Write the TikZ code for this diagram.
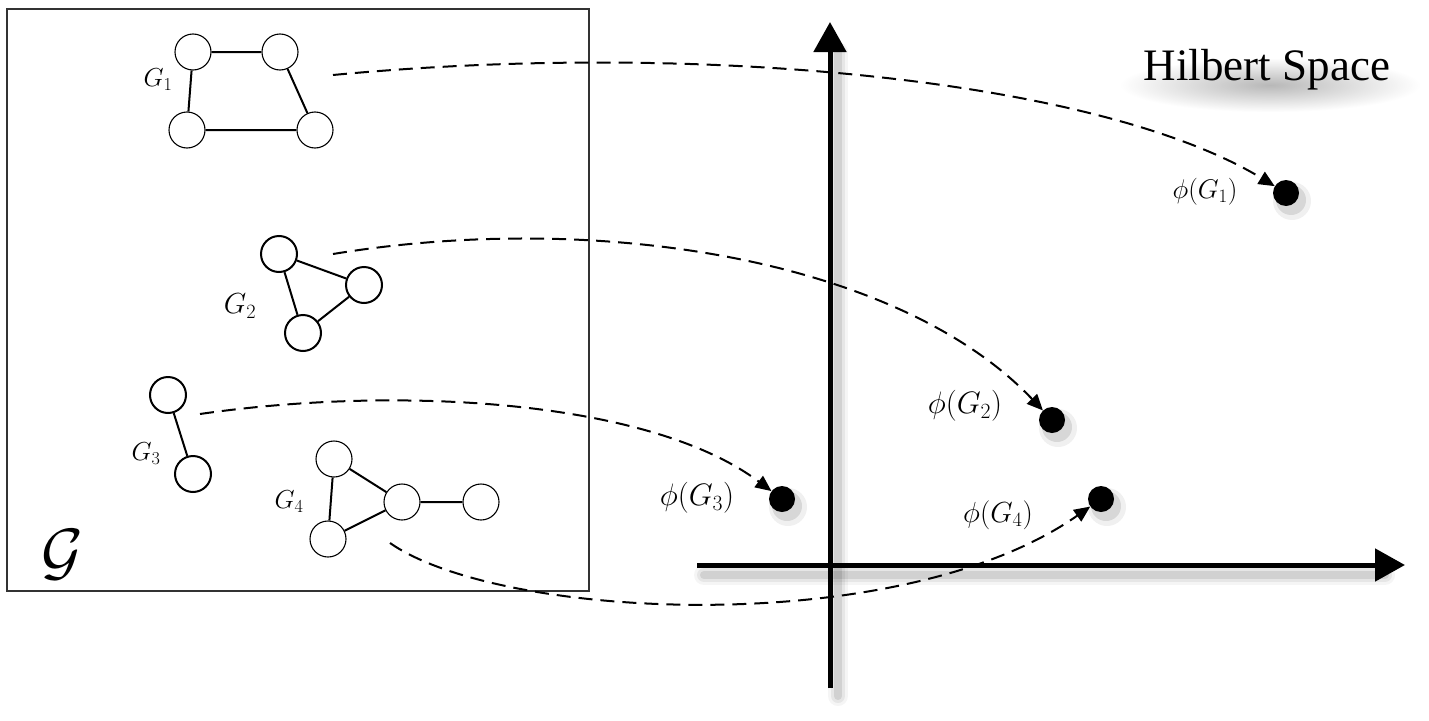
\RequirePackage{fix-cm}
\documentclass[tikz,border=0pt]{standalone}
\usepackage{fontspec}
\newfontfamily\hfont{Liberation Serif}
\usetikzlibrary{arrows.meta,fadings}
\tikzfading[name=softblob, inner color=transparent!20, outer color=transparent!100]
\begin{document}
\begin{tikzpicture}[x=1pt,y=-1pt,
  vtx/.style={circle,draw,minimum size=36pt,inner sep=0pt,line width=1.1pt,fill=white},
  vtxb/.style={vtx,line width=2pt},
  edge/.style={line width=2pt},
  map/.style={dash pattern=on 14pt off 8pt, line width=2pt, -{Triangle[length=16pt,width=14pt]}},
  dot/.style={circle,fill=black,minimum size=26pt,inner sep=0pt},
  lbl/.style={font=\fontsize{26}{28}\selectfont},
  plbl/.style={font=\fontsize{31}{34}\selectfont},
  axis/.style={line width=5pt,-{Triangle[length=30pt,width=32pt]}},
]
\useasboundingbox (0,0) rectangle (1429,720);
\fill[white] (0,0) rectangle (1429,720);

% frame of graph set
\draw[line width=1.2pt,black!80] (7,9) rectangle (589,591);
\node[font=\fontsize{64}{68}\selectfont] (calG) at (62,555) {$\mathcal{G}$};

% axes
\coordinate (xo) at (697,565); \coordinate (xe) at (1405,565);
\coordinate (yo) at (830,688); \coordinate (ye) at (830,22);
\foreach \w/\o in {20/0.04,14/0.06,8/0.09}{
  \draw[line width=\w pt,black,opacity=\o,line cap=round] ([shift={(7,10)}]xo) -- ([shift={(-20,10)}]xe);
  \draw[line width=\w pt,black,opacity=\o,line cap=round] ([shift={(8,8)}]yo) -- ([shift={(8,30)}]ye);
}
\draw[axis] (xo) -- (xe);
\draw[axis] (yo) -- (ye);

% Hilbert space label with soft shadow
\fill[black,opacity=0.35,path fading=softblob] (1120,58) rectangle (1420,112);
\node[font=\hfont\fontsize{45}{50}\selectfont] (hs) at (1267,70) {Hilbert Space};

% G1
\node[vtx] (a1) at (193,52) {};
\node[vtx] (b1) at (280,52) {};
\node[vtx] (c1) at (187,130) {};
\node[vtx] (d1) at (315,130) {};
\draw[edge] (a1) -- (b1) (b1) -- (d1) (a1) -- (c1) (c1) -- (d1);
\node[lbl] (l1) at (158,80) {$G_1$};

% G2
\node[vtxb] (a2) at (279,254) {};
\node[vtxb] (b2) at (364,285) {};
\node[vtxb] (c2) at (303,333) {};
\draw[edge] (a2) -- (b2) (b2) -- (c2) (a2) -- (c2);
\node[font=\fontsize{29}{32}\selectfont] (l2) at (240,306) {$G_2$};

% G3
\node[vtxb] (a3) at (168,395) {};
\node[vtxb] (b3) at (193,474) {};
\draw[edge] (a3) -- (b3);
\node[lbl] (l3) at (146,454) {$G_3$};

% G4
\node[vtx] (a4) at (334,459) {};
\node[vtx] (b4) at (402,502) {};
\node[vtx] (c4) at (328,539) {};
\node[vtx] (d4) at (481,502) {};
\draw[edge] (a4) -- (b4) (a4) -- (c4) (b4) -- (c4) (b4) -- (d4);
\node[lbl] (l4) at (289,502) {$G_4$};

% embedded points with shadows
\foreach \p/\x/\y in {1/1286/193,2/1052/420,3/782/499,4/1101/499}{
  \fill[black,opacity=0.06] (\x+6,\y+8) circle (19pt);
  \fill[black,opacity=0.10] (\x+5,\y+7) circle (15pt);
  \node[dot] (p\p) at (\x,\y) {};
}
\node[font=\fontsize{27}{30}\selectfont] (q1) at (1205,192) {$\phi(G_1)$};
\node[plbl] (q2) at (965,406) {$\phi(G_2)$};
\node[plbl] (q3) at (697,498) {$\phi(G_3)$};
\node[font=\fontsize{29}{32}\selectfont] (q4) at (998,515) {$\phi(G_4)$};

% mapping arrows
\coordinate (s1) at (333,75);
\coordinate (s2) at (333,254);
\coordinate (s3) at (200,414);
\coordinate (s4) at (390,543);
\draw[map] (s1) .. controls (700,40) and (1100,80) .. (p1);
\draw[map] (s2) .. controls (600,210) and (900,260) .. (p2);
\draw[map] (s3) .. controls (400,385) and (650,400) .. (p3);
\draw[map] (s4) .. controls (500,620) and (900,640) .. (p4);
\end{tikzpicture}
\end{document}
